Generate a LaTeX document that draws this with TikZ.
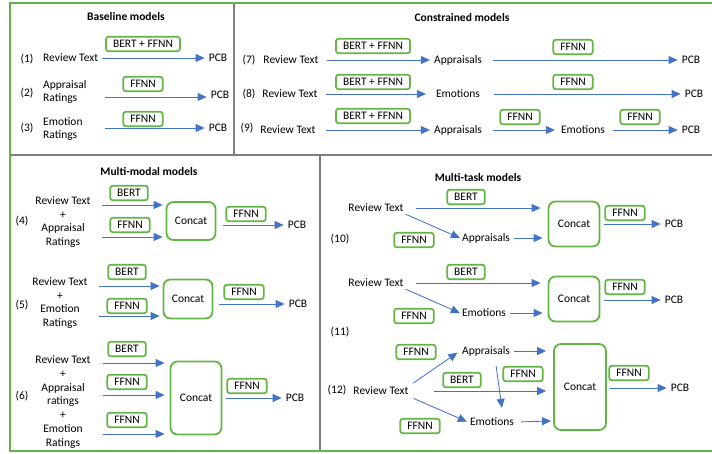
\documentclass[tikz,border=0pt]{standalone}
\usepackage{fontspec}
\setmainfont{Carlito}
\usetikzlibrary{arrows.meta}
\definecolor{gbox}{HTML}{62B443}
\definecolor{arrc}{HTML}{4472C4}
\definecolor{divc}{HTML}{7F7F7F}
\begin{document}
\begin{tikzpicture}[x=1pt,y=-1pt,
  model/.style={draw=gbox, line width=1.7pt, rounded corners=2.5pt, inner xsep=7pt, inner ysep=0pt, minimum height=14.5pt, font=\fontsize{11.5}{13}\selectfont},
  concat/.style={draw=gbox, line width=1.8pt, rounded corners=7pt, minimum width=49pt, font=\fontsize{11.5}{13}\selectfont},
  lbl/.style={inner sep=2pt, align=center, font=\fontsize{11.5}{13.7}\selectfont},
  ttl/.style={font=\fontsize{11.5}{13}\selectfont\bfseries},
  arrow/.style={draw=arrc, line width=0.85pt, -{Triangle[length=9pt,width=8pt]}, shorten <=2pt, shorten >=2pt}
]
\useasboundingbox (0,0) rectangle (712,453);
% frame and dividers
\draw[divc, line width=1.2pt] (234,3) -- (234,155);
\draw[divc, line width=1.2pt] (9,155) -- (712,155);
\draw[divc, line width=1.2pt] (320,155) -- (320,451);
\draw[gbox, line width=2.2pt] (712,3) -- (10,3) -- (10,451) -- (712,451);

% ---------- Baseline ----------
\node[ttl] (t1) at (126,17) {Baseline models};
\node[lbl] (n1) at (27,59) {(1)};
\node[lbl,anchor=west] (rt1) at (41,58) {Review Text};
\node[lbl] (p1) at (218,58) {PCB};
\node[model] (m1) at (143,44) {BERT + FFNN};
\draw[arrow] (rt1) -- (p1);

\node[lbl] (n2) at (27,93) {(2)};
\node[lbl,anchor=west,align=left] (ar2) at (41,92) {Appraisal\\Ratings};
\node[lbl] (p2) at (220,95) {PCB};
\node[model] (m2) at (143,84) {FFNN};
\coordinate (s2) at (103,97);
\draw[arrow] (s2) -- (s2 -| p2.west);

\node[lbl] (n3) at (27,128) {(3)};
\node[lbl,anchor=west,align=left] (er3) at (41,129) {Emotion\\Ratings};
\node[lbl] (p3) at (218,128) {PCB};
\node[model] (m3) at (143,119) {FFNN};
\coordinate (s3) at (103,128);
\draw[arrow] (s3) -- (p3);

% ---------- Constrained ----------
\node[ttl] (t2) at (462,18) {Constrained models};
\node[lbl] (n7) at (249,60) {(7)};
\node[lbl] (rt7) at (291,60) {Review Text};
\node[lbl] (ap7) at (458,60) {Appraisals};
\node[lbl] (p7) at (691,60) {PCB};
\node[model] (m7a) at (373,46) {BERT + FFNN};
\node[model] (m7b) at (573,47) {FFNN};
\draw[arrow, shorten <=6pt] (rt7) -- (ap7);
\draw[arrow, shorten <=9pt] (ap7) -- (p7);

\node[lbl] (n8) at (249,94) {(8)};
\node[lbl] (rt8) at (290,94) {Review Text};
\node[lbl] (em8) at (458,94) {Emotions};
\node[lbl] (p8) at (694,94) {PCB};
\node[model] (m8a) at (373,82) {BERT + FFNN};
\node[model] (m8b) at (573,82) {FFNN};
\draw[arrow, shorten <=6pt, shorten >=8pt] (rt8) -- (em8);
\draw[arrow, shorten <=12pt] (em8) -- (p8);

\node[lbl] (n9) at (247,128) {(9)};
\node[lbl] (rt9) at (288,130) {Review Text};
\node[lbl] (ap9) at (458,130) {Appraisals};
\node[lbl] (em9) at (583,130) {Emotions};
\node[lbl] (p9) at (691,130) {PCB};
\node[model] (m9a) at (373,116) {BERT + FFNN};
\node[model] (m9b) at (520,117) {FFNN};
\node[model] (m9c) at (640,117) {FFNN};
\draw[arrow, shorten <=8pt] (rt9) -- (ap9);
\draw[arrow, shorten <=9pt, shorten >=4pt] (ap9) -- (em9);
\draw[arrow, shorten <=6pt] (em9) -- (p9);

% ---------- Multi-modal ----------
\node[ttl] (t3) at (149,171) {Multi-modal models};
% (4)
\node[lbl] (n4) at (22,221) {(4)};
\node[lbl] (tx4) at (63,222) {Review Text\\+\\Appraisal\\Ratings};
\node[concat, minimum height=38pt] (cc4) at (191,221) {Concat};
\node[model] (b4a) at (129,193) {BERT};
\node[model] (b4b) at (130,225) {FFNN};
\node[model] (f4) at (246,214) {FFNN};
\node[lbl] (p4) at (297,225) {PCB};
\coordinate (i4a) at (100,205);
\coordinate (i4b) at (100,237);
\draw[arrow, shorten >=3pt] (i4a) -- (i4a -| cc4.west);
\draw[arrow, shorten >=3pt] (i4b) -- (i4b -| cc4.west);
\draw[arrow, shorten <=7pt] (cc4.east |- p4) -- (p4);
% (5)
\node[lbl] (n5) at (22,305) {(5)};
\node[lbl] (tx5) at (60,303) {Review Text\\+\\Emotion\\Ratings};
\node[concat, minimum height=39pt] (cc5) at (188,299) {Concat};
\node[model] (b5a) at (127,272) {BERT};
\node[model] (b5b) at (127,306) {FFNN};
\node[model] (f5) at (244,292) {FFNN};
\node[lbl] (p5) at (298,304) {PCB};
\coordinate (i5a) at (97,286);
\coordinate (i5b) at (97,316);
\draw[arrow, shorten >=3pt] (i5a) -- (i5a -| cc5.west);
\draw[arrow, shorten >=3pt] (i5b) -- (i5b -| cc5.west);
\draw[arrow, shorten <=6pt] (cc5.east |- p5) -- (p5);
% (6)
\node[lbl] (n6) at (22,396) {(6)};
\node[lbl] (tx6) at (63,402) {Review Text\\+\\Appraisal\\ratings\\+\\Emotion\\Ratings};
\node[concat, minimum width=51pt, minimum height=73pt] (cc6) at (196,398) {Concat};
\node[model] (b6a) at (127,349) {BERT};
\node[model] (b6b) at (127,382) {FFNN};
\node[model] (b6c) at (127,420) {FFNN};
\node[model] (f6) at (247,386) {FFNN};
\node[lbl] (p6) at (295,398) {PCB};
\coordinate (i6a) at (101,363);
\coordinate (i6b) at (101,395);
\coordinate (i6c) at (101,434);
\draw[arrow, shorten >=5pt] (i6a) -- (i6a -| cc6.west);
\draw[arrow, shorten >=5pt] (i6b) -- (i6b -| cc6.west);
\draw[arrow, shorten >=5pt] (i6c) -- (i6c -| cc6.west);
\draw[arrow, shorten <=4pt] (cc6.east |- p6) -- (p6);

% ---------- Multi-task ----------
\node[ttl] (t4) at (478,177) {Multi-task models};
% (10)
\node[lbl] (n10) at (340,239) {(10)};
\node[lbl] (rt10) at (376,208) {Review Text};
\node[lbl] (ap10) at (486,238) {Appraisals};
\node[concat, minimum width=51pt, minimum height=45pt] (cc10) at (574,224) {Concat};
\node[model] (b10) at (466,197) {BERT};
\node[model] (f10) at (414,240) {FFNN};
\node[model] (ff10) at (625,213) {FFNN};
\node[lbl] (p10) at (674,224) {PCB};
\draw[arrow, shorten <=10pt, shorten >=7pt] (rt10.east) -- (rt10.east -| cc10.west);
\draw[arrow, shorten <=0pt, shorten >=0pt] (rt10.south east) -- (ap10.west);
\draw[arrow, shorten >=5pt] (ap10.east) -- (ap10.east -| cc10.west);
\draw[arrow, shorten <=4pt] (cc10.east |- p10) -- (p10);
% (11)
\node[lbl] (n11) at (340,332) {(11)};
\node[lbl] (rt11) at (376,283) {Review Text};
\node[lbl] (em11) at (484,313) {Emotions};
\node[concat, minimum width=51pt, minimum height=45pt] (cc11) at (574,299) {Concat};
\node[model] (b11) at (466,272) {BERT};
\node[model] (f11) at (414,316) {FFNN};
\node[model] (ff11) at (625,287) {FFNN};
\node[lbl] (p11) at (674,300) {PCB};
\draw[arrow, shorten <=10pt, shorten >=7pt] (rt11.east) -- (rt11.east -| cc11.west);
\draw[arrow, shorten <=0pt, shorten >=0pt] (rt11.south east) -- (em11.west);
\draw[arrow, shorten >=5pt] (em11.east) -- (em11.east -| cc11.west);
\draw[arrow, shorten <=4pt] (cc11.east |- p11) -- (p11);
% (12)
\node[lbl] (n12) at (337,390) {(12)};
\node[lbl] (rt12) at (381,391) {Review Text};
\node[lbl] (ap12) at (486,351) {Appraisals};
\node[lbl] (em12) at (492,422) {Emotions};
\node[concat, minimum width=52pt, minimum height=86pt] (cc12) at (580,387) {Concat};
\node[model] (f12a) at (416,352) {FFNN};
\node[model] (b12) at (462,380) {BERT};
\node[model] (f12b) at (523,374) {FFNN};
\node[model] (f12c) at (420,426) {FFNN};
\node[model] (ff12) at (629,373) {FFNN};
\node[lbl] (p12) at (680,388) {PCB};
\draw[arrow, shorten <=3pt, shorten >=3pt] (rt12.north east) -- (ap12.west);
\draw[arrow, shorten <=23pt, shorten >=7pt] (rt12.east) -- (rt12.east -| cc12.west);
\draw[arrow, shorten <=3pt, shorten >=1pt] (rt12.south east) -- (em12.west);
\draw[arrow, shorten >=7pt] (ap12.east) -- (ap12.east -| cc12.west);
\draw[arrow, shorten <=8pt, shorten >=8pt] ([xshift=9pt]ap12.south) -- ([xshift=11pt]em12.north);
\draw[arrow, shorten <=5pt, shorten >=2pt] (em12.east) -- ([yshift=10pt]cc12.south west);
\draw[arrow, shorten <=3pt] (cc12.east |- p12) -- (p12);
\end{tikzpicture}
\end{document}
